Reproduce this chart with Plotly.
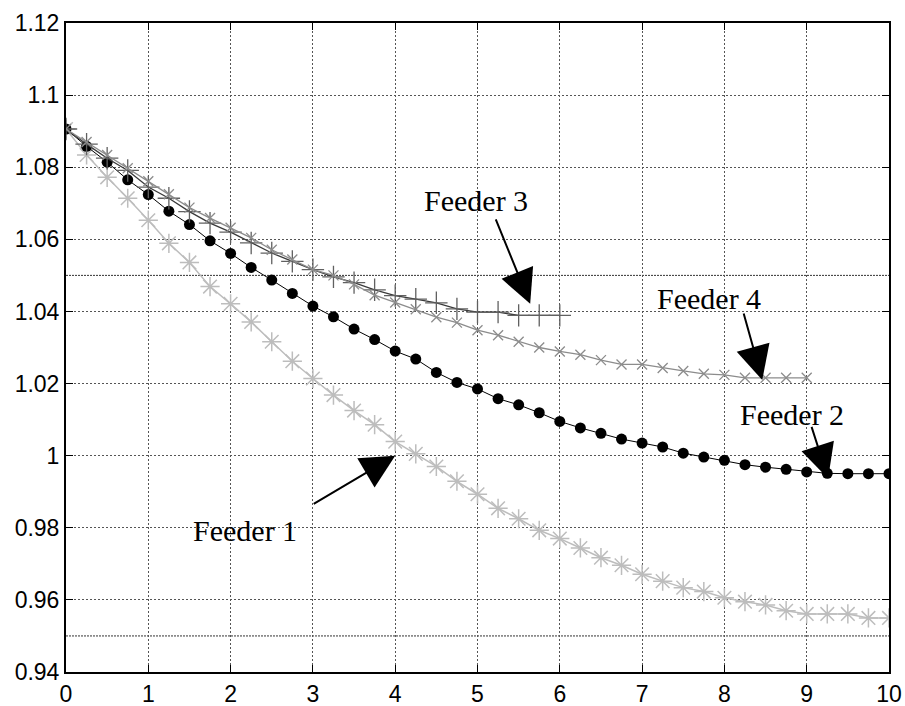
import plotly.graph_objects as go

# Distance along the feeder (sample every 0.25)
x_full = [i * 0.25 for i in range(41)]

# Voltage profiles (p.u.)
feeder1 = [1.0906, 1.0834, 1.0772, 1.0714, 1.0653, 1.0589, 1.0536, 1.0469, 1.0421, 1.0371,
           1.0316, 1.0262, 1.0214, 1.0168, 1.0125, 1.0086, 1.0039, 1.0005, 0.9970, 0.9929,
           0.9893, 0.9854, 0.9825, 0.9793, 0.9770, 0.9744, 0.9717, 0.9696, 0.9671, 0.9652,
           0.9634, 0.9623, 0.9606, 0.9595, 0.9586, 0.9570, 0.9561, 0.9561, 0.9561, 0.9550,
           0.9550]
feeder2 = [1.0906, 1.0858, 1.0814, 1.0765, 1.0724, 1.0678, 1.0641, 1.0596, 1.0561, 1.0522,
           1.0487, 1.0450, 1.0415, 1.0385, 1.0351, 1.0322, 1.0290, 1.0268, 1.0231, 1.0203,
           1.0185, 1.0158, 1.0141, 1.0119, 1.0095, 1.0077, 1.0062, 1.0046, 1.0035, 1.0024,
           1.0007, 0.9996, 0.9987, 0.9975, 0.9968, 0.9962, 0.9955, 0.9951, 0.9950, 0.9950,
           0.9950]
feeder3 = [1.0906, 1.0864, 1.0825, 1.0791, 1.0745, 1.0714, 1.0677, 1.0645, 1.0620, 1.0590,
           1.0562, 1.0539, 1.0516, 1.0496, 1.0480, 1.0460, 1.0444, 1.0434, 1.0424, 1.0407,
           1.0398, 1.0398, 1.0389, 1.0389, 1.0389]
feeder4 = [1.0906, 1.0870, 1.0834, 1.0797, 1.0761, 1.0725, 1.0688, 1.0659, 1.0632, 1.0604,
           1.0571, 1.0544, 1.0516, 1.0500, 1.0475, 1.0445, 1.0425, 1.0406, 1.0384, 1.0369,
           1.0348, 1.0334, 1.0316, 1.0300, 1.0289, 1.0280, 1.0265, 1.0253, 1.0253, 1.0243,
           1.0235, 1.0227, 1.0224, 1.0216, 1.0216, 1.0216, 1.0216]

x_ticks = list(range(0, 11))
y_ticks = [0.94, 0.96, 0.98, 1.00, 1.02, 1.04, 1.06, 1.08, 1.10, 1.12]
y_tick_labels = ["0.94", "0.96", "0.98", "1", "1.02", "1.04", "1.06", "1.08", "1.1", "1.12"]
limit_levels = [0.95, 1.05]

fig = go.Figure()

fig.add_trace(go.Scatter(
    x=x_full[:len(feeder1)], y=feeder1, mode="lines+markers", name="Feeder 1",
    line=dict(color="#bdbdbd", width=1.5),
    marker=dict(symbol="asterisk-open", size=16, color="#bdbdbd",
                line=dict(color="#bdbdbd", width=1.5))))
fig.add_trace(go.Scatter(
    x=x_full[:len(feeder2)], y=feeder2, mode="lines+markers", name="Feeder 2",
    line=dict(color="#000000", width=1),
    marker=dict(symbol="circle", size=11, color="#000000")))
fig.add_trace(go.Scatter(
    x=x_full[:len(feeder3)], y=feeder3, mode="lines+markers", name="Feeder 3",
    line=dict(color="#3a3a3a", width=1.3),
    marker=dict(symbol="cross-thin-open", size=16, color="#606060",
                line=dict(color="#606060", width=1.3))))
fig.add_trace(go.Scatter(
    x=x_full[:len(feeder4)], y=feeder4, mode="lines+markers", name="Feeder 4",
    line=dict(color="#8c8c8c", width=1.3),
    marker=dict(symbol="x-thin-open", size=10, color="#8c8c8c",
                line=dict(color="#8c8c8c", width=1.3))))

# voltage limit lines
for lv in limit_levels:
    fig.add_shape(type="line", xref="paper", yref="y", x0=0, x1=1, y0=lv, y1=lv,
                  line=dict(color="#333333", width=1, dash="2px,1px"), layer="below")

label_font = dict(family="Liberation Serif, Times New Roman, serif", size=30, color="#000000")

# feeder labels
labels = [("Feeder 1", 2.17, 0.9793), ("Feeder 2", 8.82, 1.0115),
          ("Feeder 3", 4.98, 1.0709), ("Feeder 4", 7.81, 1.0437)]
for txt, lx, ly in labels:
    fig.add_annotation(x=lx, y=ly, xref="x", yref="y", text=txt, showarrow=False,
                       font=label_font, xanchor="center", yanchor="middle")

# arrows pointing at each curve: (tip x, tip y, tail offset px)
arrows = [(4.0, 1.0000, -83, 49), (9.26, 0.9937, -17, -53),
          (5.64, 1.0421, -35, -86), (8.46, 1.0210, -19, -68)]
for tx, ty, ax, ay in arrows:
    fig.add_annotation(x=tx, y=ty, xref="x", yref="y", text="", showarrow=True,
                       ax=ax, ay=ay, arrowhead=2, arrowsize=3.4, arrowwidth=2,
                       arrowcolor="#000000", standoff=0)

axis_common = dict(
    showline=True, linecolor="#000000", linewidth=2, mirror="ticks",
    ticks="inside", ticklen=7, tickcolor="#000000", tickwidth=1,
    showgrid=True, gridcolor="#555555", gridwidth=1, griddash="2px,2px",
    zeroline=False, automargin=False,
    tickfont=dict(family="Liberation Sans, Arial, sans-serif", size=23, color="#000000"),
)

fig.update_xaxes(range=[0, 10], tickvals=x_ticks, ticktext=[str(v) for v in x_ticks],
                 **axis_common)
fig.update_yaxes(range=[0.94, 1.12], tickvals=y_ticks, ticktext=y_tick_labels,
                 **axis_common)

fig.update_layout(
    width=905, height=706,
    margin=dict(l=66, r=16, t=23, b=34),
    paper_bgcolor="#ffffff", plot_bgcolor="#ffffff",
    showlegend=False,
)

fig.write_html("out.html")
